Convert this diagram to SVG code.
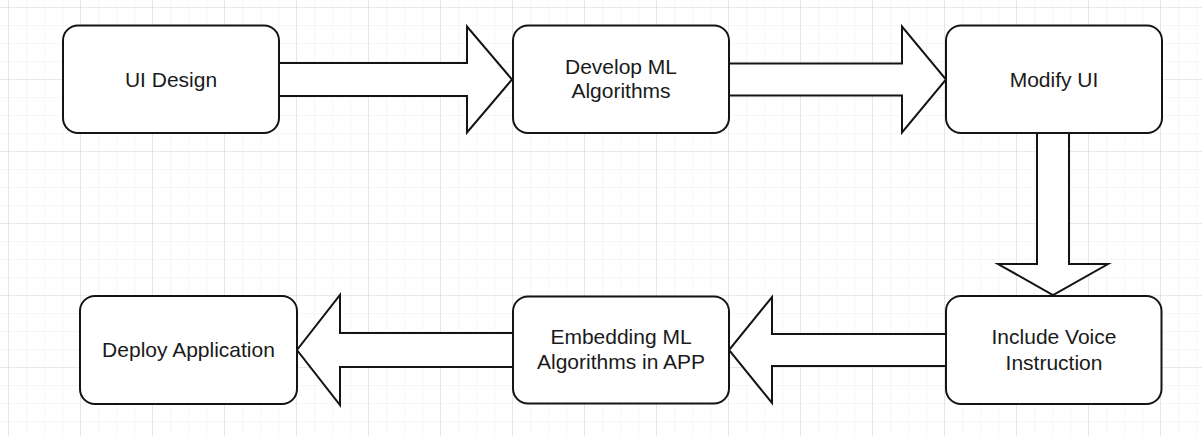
<svg xmlns="http://www.w3.org/2000/svg" width="1202" height="436" viewBox="0 0 1202 436">
  <defs>
    <pattern id="minorGrid" x="8" y="7" width="18" height="18" patternUnits="userSpaceOnUse">
      <path d="M 0 0 L 18 0 M 0 0 L 0 18" fill="none" stroke="#eeeeee" stroke-width="1"/>
    </pattern>
    <pattern id="majorGrid" x="8" y="7" width="72" height="72" patternUnits="userSpaceOnUse">
      <path d="M 0 0 L 72 0 M 0 0 L 0 72" fill="none" stroke="#dcdcdc" stroke-width="1.2"/>
    </pattern>
    <style>
      .node rect { fill: #ffffff; stroke: #141414; stroke-width: 2; }
      .node text { font-family: "Liberation Sans", Arial, Helvetica, sans-serif; font-size: 21px; fill: #1a1a1a; text-anchor: middle; }
      .arrow { fill: #ffffff; stroke: #141414; stroke-width: 2; stroke-linejoin: miter; }
    </style>
  </defs>

  <!-- canvas grid -->
  <rect width="1202" height="436" fill="#ffffff"/>
  <rect width="1202" height="436" fill="url(#minorGrid)"/>
  <rect width="1202" height="436" fill="url(#majorGrid)"/>

  <!-- block arrows between steps -->
  <g id="connectors">
    <polygon class="arrow" points="272,63 467,63 467,26.5 512,79.5 467,132.5 467,96 272,96"/>
    <polygon class="arrow" points="722,63.5 902,63.5 902,26.5 946,79.5 902,132.5 902,95.5 722,95.5"/>
    <polygon class="arrow" points="1037,126 1037,264 998,264 1053,295 1108,264 1069,264 1069,126"/>
    <polygon class="arrow" points="953,334 772,334 772,297 729,350 772,403 772,366 953,366"/>
    <polygon class="arrow" points="520,333 340,333 340,295 297,350 340,405 340,367 520,367"/>
  </g>

  <g id="node-ui-design" class="node">
    <rect x="63" y="25.5" width="216" height="107.5" rx="15" ry="15"/>
    <text x="171" y="87">UI Design</text>
  </g>

  <g id="node-develop-ml" class="node">
    <rect x="513" y="25.5" width="216" height="107.5" rx="15" ry="15"/>
    <text x="621" y="74">Develop ML</text>
    <text x="621" y="98">Algorithms</text>
  </g>

  <g id="node-modify-ui" class="node">
    <rect x="946" y="25.5" width="216" height="107.5" rx="15" ry="15"/>
    <text x="1054" y="87">Modify UI</text>
  </g>

  <g id="node-voice-instruction" class="node">
    <rect x="946" y="296" width="215.5" height="108" rx="15" ry="15"/>
    <text x="1054" y="344">Include Voice</text>
    <text x="1054" y="370">Instruction</text>
  </g>

  <g id="node-embed-ml" class="node">
    <rect x="513" y="296.5" width="216" height="107" rx="15" ry="15"/>
    <text x="621" y="344">Embedding ML</text>
    <text x="621" y="369">Algorithms in APP</text>
  </g>

  <g id="node-deploy" class="node">
    <rect x="80" y="296" width="217" height="108" rx="15" ry="15"/>
    <text x="188.5" y="357">Deploy Application</text>
  </g>
</svg>
